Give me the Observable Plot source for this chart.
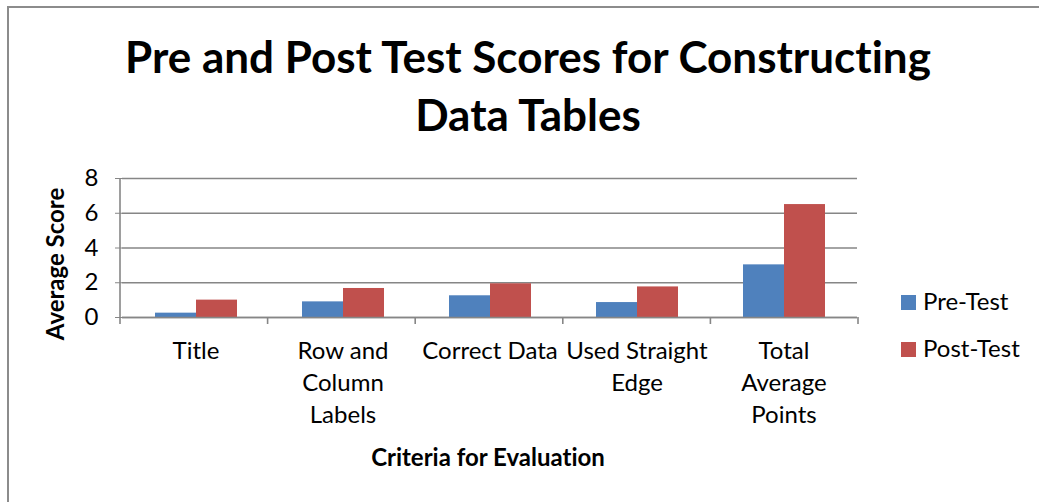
<!DOCTYPE html>
<html>
<head>
<meta charset="utf-8">
<script src="https://cdn.jsdelivr.net/npm/d3@7"></script>
<script src="https://cdn.jsdelivr.net/npm/@observablehq/plot@0.6"></script>
<style>
  body { margin: 0; background: #fff; }
  #wrap { position: relative; width: 1039px; height: 502px; overflow: hidden; font-family: Lato, "Open Sans", sans-serif; color: #000; font-variant-ligatures: none; font-feature-settings: "liga" 0, "dlig" 0; }
  #wrap svg text { font-variant-ligatures: none; }
  #border { position: absolute; left: 7px; top: 6px; width: 1200px; height: 700px; border: 2px solid #8c8c8c; box-sizing: border-box; }
  #title { position: absolute; left: 0; top: 27px; width: 1056px; text-align: center; font-weight: bold; font-size: 44px; line-height: 58px; }
  #chart { position: absolute; left: 0; top: 160px; }
  #ylabel { position: absolute; left: 54px; top: 264px; transform: translate(-50%, -50%) rotate(-90deg); font-weight: bold; font-size: 24px; white-space: nowrap; line-height: normal; }
  #xlabel { position: absolute; left: 0; top: 442px; width: 976px; text-align: center; font-weight: bold; font-size: 24px; line-height: normal; }
  .leg { position: absolute; left: 901px; font-size: 24px; line-height: normal; white-space: nowrap; }
  .leg span.sw { display: inline-block; width: 15px; height: 15px; vertical-align: baseline; margin-right: 7px; }
</style>
</head>
<body>
<div id="wrap">
  <div id="border"></div>
  <div id="title">Pre and Post Test Scores for Constructing<br>Data Tables</div>
  <div id="chart"></div>
  <div id="ylabel">Average Score</div>
  <div id="xlabel">Criteria for Evaluation</div>
  <div id="legend"></div>
</div>
<script>
const categories = ["Title", "Row and Column Labels", "Correct Data", "Used Straight Edge", "Total Average Points"];
const tickLabels = ["Title", "Row and\nColumn\nLabels", "Correct Data", "Used Straight\nEdge", "Total\nAverage\nPoints"];
const seriesNames = ["Pre-Test", "Post-Test"];
const seriesColors = ["#4F81BD", "#C0504D"];
const preTest = [0.25, 0.9, 1.25, 0.86, 3.03];
const postTest = [1.0, 1.67, 1.94, 1.76, 6.5];
const yTicks = [0, 2, 4, 6, 8];

const data = [];
categories.forEach((c, i) => {
  data.push({category: c, series: seriesNames[0], value: preTest[i]});
  data.push({category: c, series: seriesNames[1], value: postTest[i]});
});
const labelOf = new Map(categories.map((c, i) => [c, tickLabels[i]]));

const gridColor = "#868686";

const chart = Plot.plot({
  width: 1039,
  height: 300,
  marginLeft: 120,
  marginRight: 181,
  marginTop: 18,
  marginBottom: 143,
  style: {fontFamily: "Lato, 'Open Sans', sans-serif", color: "#000", background: "transparent"},
  fx: {domain: categories, padding: 0, label: null},
  x: {domain: seriesNames, paddingInner: 0, paddingOuter: 0.757, axis: null},
  y: {domain: [0, 8], label: null},
  color: {domain: seriesNames, range: seriesColors},
  marks: [
    Plot.gridY(yTicks, {stroke: gridColor, strokeOpacity: 1, strokeWidth: 1.6}),
    Plot.barY(data, {fx: "category", x: "series", y: "value", fill: "series", inset: 0}),
    Plot.ruleY([0], {stroke: gridColor, strokeWidth: 1.6}),
    Plot.axisY(yTicks, {tickSize: 7, tickPadding: 17, fontSize: 24, stroke: gridColor, label: null}),
    Plot.axisFx({anchor: "bottom", tickSize: 0, tickPadding: 19, fontSize: 24, lineHeight: 1.33, tickFormat: d => labelOf.get(d), label: null})
  ]
});
document.getElementById("chart").appendChild(chart);

// vertical axis line and category boundary ticks, placed through the plot's own scales
const fx = chart.scale("fx");
const ys = chart.scale("y");
const band = d3.scaleBand().domain(fx.domain).range(fx.range).paddingInner(fx.paddingInner || 0).paddingOuter(fx.paddingOuter || 0);
const y0 = ys.apply ? ys.apply(0) : ys.range[0];
const y8 = ys.apply ? ys.apply(8) : ys.range[1];
const svg = d3.select(chart.tagName.toLowerCase() === "svg" ? chart : chart.querySelector("svg"));
const g = svg.append("g").attr("stroke", gridColor).attr("stroke-width", 1.6);
const x0 = band.range()[0];
g.append("line").attr("x1", x0).attr("x2", x0).attr("y1", y8).attr("y2", y0);
const bounds = band.domain().map(d => band(d)).concat([band(band.domain().at(-1)) + band.bandwidth()]);
bounds.forEach(b => g.append("line").attr("x1", b).attr("x2", b).attr("y1", y0).attr("y2", y0 + 7));

// legend
const legend = document.getElementById("legend");
const legendTops = [286, 333];
seriesNames.forEach((s, i) => {
  const div = document.createElement("div");
  div.className = "leg";
  div.style.top = legendTops[i] + "px";
  div.innerHTML = `<span class="sw" style="background:${seriesColors[i]}"></span>${s}`;
  legend.appendChild(div);
});
</script>
</body>
</html>
